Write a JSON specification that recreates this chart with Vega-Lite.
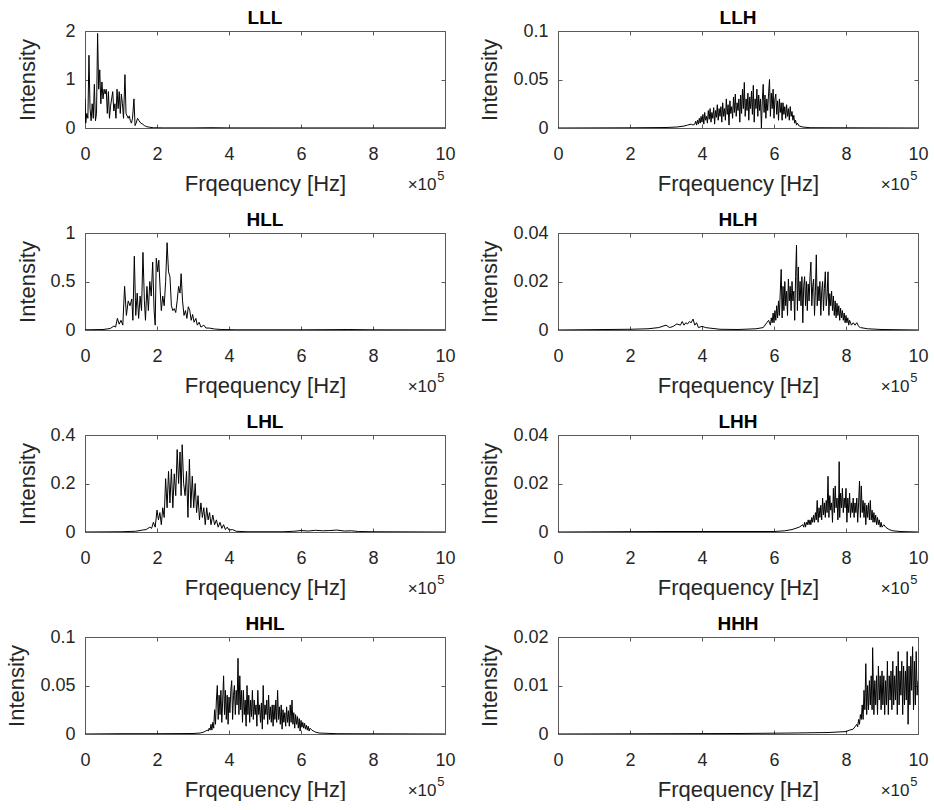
{
  "$schema": "https://vega.github.io/schema/vega-lite/v6.json",
  "background": "white",
  "padding": {"left": 4, "top": 8, "right": 0, "bottom": 0},
  "config": {
    "font": "Liberation Sans",
    "view": {"stroke": "#5a5a5a", "strokeWidth": 1},
    "axis": {"domain": false, "grid": false, "ticks": true, "tickSize": -4, "tickColor": "#5a5a5a", "tickWidth": 1, "labelFlush": false,
      "labelFont": "Liberation Sans", "labelFontSize": 18, "labelColor": "#262626",
      "titleFont": "Liberation Sans", "titleFontSize": 22, "titleFontWeight": "normal", "titleColor": "#262626"},
    "axisBottom": {"labelPadding": 35, "labelBaseline": "alphabetic"},
    "axisLeft": {"labelPadding": 14},
    "axisTop": {"labels": false, "titleFontSize": 17, "titleX": 351, "titleY": 158, "titleAlign": "right", "titleBaseline": "alphabetic"},
    "axisRight": {"labels": false, "titleFontSize": 13, "titleAngle": 0, "titleX": -1, "titleY": 148, "titleAlign": "right", "titleBaseline": "alphabetic"},
    "title": {"font": "Liberation Sans", "fontSize": 19, "fontWeight": "bold", "color": "black", "offset": -6, "baseline": "alphabetic", "frame": "group", "anchor": "middle"}
  },
  "datasets": {
    "LLL": [{"f":0,"v":0.6},{"f":0.02,"v":0.1},{"f":0.05,"v":0.3},{"f":0.08,"v":0.2},{"f":0.11,"v":1.5},{"f":0.14,"v":0.4},{"f":0.17,"v":0.15},{"f":0.2,"v":0.5},{"f":0.23,"v":0.2},{"f":0.26,"v":0.9},{"f":0.29,"v":0.15},{"f":0.32,"v":0.3},{"f":0.35,"v":1.95},{"f":0.38,"v":0.8},{"f":0.41,"v":1.2},{"f":0.44,"v":0.5},{"f":0.47,"v":0.95},{"f":0.5,"v":0.6},{"f":0.53,"v":0.8},{"f":0.56,"v":0.7},{"f":0.59,"v":0.8},{"f":0.62,"v":0.3},{"f":0.65,"v":0.75},{"f":0.68,"v":0.2},{"f":0.71,"v":0.45},{"f":0.74,"v":0.6},{"f":0.77,"v":0.75},{"f":0.8,"v":0.35},{"f":0.83,"v":0.5},{"f":0.86,"v":0.2},{"f":0.89,"v":0.8},{"f":0.92,"v":0.4},{"f":0.95,"v":0.75},{"f":0.98,"v":0.3},{"f":1.01,"v":0.7},{"f":1.04,"v":0.5},{"f":1.07,"v":0.2},{"f":1.11,"v":1.1},{"f":1.14,"v":0.3},{"f":1.17,"v":0.25},{"f":1.2,"v":0.2},{"f":1.23,"v":0.25},{"f":1.26,"v":0.15},{"f":1.29,"v":0.1},{"f":1.32,"v":0.2},{"f":1.36,"v":0.6},{"f":1.39,"v":0.05},{"f":1.42,"v":0.1},{"f":1.46,"v":0.2},{"f":1.5,"v":0.15},{"f":1.55,"v":0.1},{"f":1.6,"v":0.08},{"f":1.65,"v":0.05},{"f":1.7,"v":0.03},{"f":1.8,"v":0.015},{"f":1.9,"v":0.005},{"f":2.2,"v":0.002},{"f":3.0,"v":0.002},{"f":3.5,"v":0.006},{"f":4.0,"v":0.002},{"f":6,"v":0.001},{"f":8,"v":0.001},{"f":10,"v":0.001}],
    "LLH": [{"f":0,"v":0},{"f":2,"v":0.0002},{"f":3,"v":0.0005},{"f":3.3,"v":0.001},{"f":3.5,"v":0.002},{"f":3.6,"v":0.003},{"f":3.7,"v":0.004},{"f":3.75,"v":0.003},{"f":3.8,"v":0.004},{"f":3.825,"v":0.007},{"f":3.85,"v":0.003},{"f":3.875,"v":0.008},{"f":3.9,"v":0.004},{"f":3.925,"v":0.01},{"f":3.95,"v":0.005},{"f":3.975,"v":0.012},{"f":4.0,"v":0.006},{"f":4.025,"v":0.014},{"f":4.05,"v":0.004},{"f":4.075,"v":0.016},{"f":4.1,"v":0.008},{"f":4.125,"v":0.012},{"f":4.15,"v":0.005},{"f":4.175,"v":0.018},{"f":4.2,"v":0.009},{"f":4.225,"v":0.02},{"f":4.25,"v":0.006},{"f":4.275,"v":0.016},{"f":4.3,"v":0.01},{"f":4.325,"v":0.021},{"f":4.35,"v":0.004},{"f":4.375,"v":0.018},{"f":4.4,"v":0.011},{"f":4.425,"v":0.024},{"f":4.45,"v":0.008},{"f":4.475,"v":0.02},{"f":4.5,"v":0.012},{"f":4.525,"v":0.022},{"f":4.55,"v":0.006},{"f":4.575,"v":0.026},{"f":4.6,"v":0.012},{"f":4.625,"v":0.02},{"f":4.65,"v":0.008},{"f":4.675,"v":0.03},{"f":4.7,"v":0.014},{"f":4.725,"v":0.024},{"f":4.75,"v":0.003},{"f":4.775,"v":0.028},{"f":4.8,"v":0.015},{"f":4.825,"v":0.022},{"f":4.85,"v":0.01},{"f":4.875,"v":0.032},{"f":4.9,"v":0.016},{"f":4.925,"v":0.035},{"f":4.95,"v":0.012},{"f":4.975,"v":0.026},{"f":5.0,"v":0.018},{"f":5.025,"v":0.03},{"f":5.05,"v":0.006},{"f":5.075,"v":0.034},{"f":5.1,"v":0.015},{"f":5.125,"v":0.04},{"f":5.15,"v":0.02},{"f":5.175,"v":0.047},{"f":5.2,"v":0.012},{"f":5.225,"v":0.03},{"f":5.25,"v":0.018},{"f":5.275,"v":0.036},{"f":5.3,"v":0.008},{"f":5.325,"v":0.032},{"f":5.35,"v":0.02},{"f":5.375,"v":0.038},{"f":5.4,"v":0.014},{"f":5.425,"v":0.044},{"f":5.45,"v":0.006},{"f":5.475,"v":0.03},{"f":5.5,"v":0.02},{"f":5.525,"v":0.04},{"f":5.55,"v":0.012},{"f":5.575,"v":0.034},{"f":5.6,"v":0.018},{"f":5.625,"v":0.03},{"f":5.65,"v":0},{"f":5.675,"v":0.028},{"f":5.7,"v":0.045},{"f":5.725,"v":0.016},{"f":5.75,"v":0.034},{"f":5.775,"v":0.01},{"f":5.8,"v":0.03},{"f":5.825,"v":0.018},{"f":5.85,"v":0.036},{"f":5.875,"v":0.05},{"f":5.9,"v":0.012},{"f":5.925,"v":0.036},{"f":5.95,"v":0.02},{"f":5.975,"v":0.04},{"f":6.0,"v":0.01},{"f":6.025,"v":0.03},{"f":6.05,"v":0.035},{"f":6.075,"v":0.014},{"f":6.1,"v":0.028},{"f":6.125,"v":0.008},{"f":6.15,"v":0.03},{"f":6.175,"v":0.016},{"f":6.2,"v":0.026},{"f":6.225,"v":0.008},{"f":6.25,"v":0.026},{"f":6.275,"v":0.014},{"f":6.3,"v":0.022},{"f":6.325,"v":0.01},{"f":6.35,"v":0.024},{"f":6.375,"v":0.012},{"f":6.4,"v":0.02},{"f":6.425,"v":0.008},{"f":6.45,"v":0.022},{"f":6.475,"v":0.012},{"f":6.5,"v":0.017},{"f":6.525,"v":0.008},{"f":6.55,"v":0.013},{"f":6.575,"v":0.005},{"f":6.6,"v":0.008},{"f":6.625,"v":0.003},{"f":6.65,"v":0.005},{"f":6.7,"v":0.002},{"f":6.8,"v":0.001},{"f":7,"v":0.0003},{"f":8,"v":0.0002},{"f":10,"v":0}],
    "HLL": [{"f":0,"v":0.002},{"f":0.5,"v":0.005},{"f":0.7,"v":0.015},{"f":0.8,"v":0.04},{"f":0.85,"v":0.03},{"f":0.9,"v":0.12},{"f":0.95,"v":0.06},{"f":1.0,"v":0.1},{"f":1.05,"v":0.05},{"f":1.1,"v":0.45},{"f":1.15,"v":0.15},{"f":1.2,"v":0.3},{"f":1.25,"v":0.25},{"f":1.3,"v":0.32},{"f":1.33,"v":0.1},{"f":1.37,"v":0.76},{"f":1.41,"v":0.15},{"f":1.45,"v":0.38},{"f":1.49,"v":0.12},{"f":1.53,"v":0.35},{"f":1.57,"v":0.2},{"f":1.61,"v":0.8},{"f":1.65,"v":0.3},{"f":1.68,"v":0.1},{"f":1.72,"v":0.45},{"f":1.76,"v":0.2},{"f":1.8,"v":0.5},{"f":1.84,"v":0.35},{"f":1.88,"v":0.7},{"f":1.92,"v":0.2},{"f":1.95,"v":0.05},{"f":1.98,"v":0.74},{"f":2.02,"v":0.6},{"f":2.05,"v":0.72},{"f":2.09,"v":0.4},{"f":2.12,"v":0.2},{"f":2.16,"v":0.35},{"f":2.2,"v":0.25},{"f":2.24,"v":0.5},{"f":2.28,"v":0.9},{"f":2.32,"v":0.6},{"f":2.36,"v":0.55},{"f":2.4,"v":0.25},{"f":2.44,"v":0.2},{"f":2.48,"v":0.22},{"f":2.52,"v":0.18},{"f":2.56,"v":0.3},{"f":2.6,"v":0.45},{"f":2.64,"v":0.38},{"f":2.67,"v":0.58},{"f":2.71,"v":0.3},{"f":2.75,"v":0.15},{"f":2.79,"v":0.2},{"f":2.83,"v":0.12},{"f":2.87,"v":0.24},{"f":2.91,"v":0.2},{"f":2.95,"v":0.1},{"f":2.99,"v":0.16},{"f":3.03,"v":0.08},{"f":3.08,"v":0.12},{"f":3.12,"v":0.05},{"f":3.17,"v":0.08},{"f":3.22,"v":0.03},{"f":3.3,"v":0.05},{"f":3.36,"v":0.02},{"f":3.45,"v":0.02},{"f":3.6,"v":0.01},{"f":3.8,"v":0.005},{"f":4.2,"v":0.002},{"f":6,"v":0.002},{"f":7,"v":0.004},{"f":7.3,"v":0.005},{"f":8,"v":0.002},{"f":10,"v":0.001}],
    "HLH": [{"f":0,"v":0},{"f":2,"v":0.0003},{"f":2.5,"v":0.0005},{"f":2.8,"v":0.001},{"f":3.0,"v":0.002},{"f":3.1,"v":0.001},{"f":3.2,"v":0.0015},{"f":3.3,"v":0.0025},{"f":3.4,"v":0.002},{"f":3.45,"v":0.0035},{"f":3.5,"v":0.002},{"f":3.55,"v":0.003},{"f":3.6,"v":0.0025},{"f":3.65,"v":0.0035},{"f":3.7,"v":0.003},{"f":3.75,"v":0.0045},{"f":3.8,"v":0.002},{"f":3.85,"v":0.003},{"f":3.9,"v":0.001},{"f":4.0,"v":0.0015},{"f":4.1,"v":0.001},{"f":4.2,"v":0.0008},{"f":4.5,"v":0.0003},{"f":5.0,"v":0.0002},{"f":5.5,"v":0.0005},{"f":5.7,"v":0.001},{"f":5.8,"v":0.003},{"f":5.85,"v":0.004},{"f":5.9,"v":0.002},{"f":5.925,"v":0.005},{"f":5.95,"v":0.003},{"f":5.975,"v":0.007},{"f":6.0,"v":0.003},{"f":6.025,"v":0.008},{"f":6.05,"v":0.004},{"f":6.075,"v":0.01},{"f":6.1,"v":0.005},{"f":6.125,"v":0.012},{"f":6.15,"v":0.006},{"f":6.175,"v":0.016},{"f":6.2,"v":0.025},{"f":6.225,"v":0.005},{"f":6.25,"v":0.018},{"f":6.275,"v":0.008},{"f":6.3,"v":0.02},{"f":6.325,"v":0.01},{"f":6.35,"v":0.016},{"f":6.375,"v":0.006},{"f":6.4,"v":0.021},{"f":6.425,"v":0.012},{"f":6.45,"v":0.018},{"f":6.475,"v":0.008},{"f":6.5,"v":0.02},{"f":6.525,"v":0.012},{"f":6.55,"v":0.016},{"f":6.575,"v":0.004},{"f":6.6,"v":0.022},{"f":6.625,"v":0.035},{"f":6.65,"v":0.008},{"f":6.675,"v":0.026},{"f":6.7,"v":0.012},{"f":6.725,"v":0.02},{"f":6.75,"v":0.01},{"f":6.775,"v":0.022},{"f":6.8,"v":0.003},{"f":6.825,"v":0.018},{"f":6.85,"v":0.022},{"f":6.875,"v":0.01},{"f":6.9,"v":0.02},{"f":6.925,"v":0.008},{"f":6.95,"v":0.019},{"f":6.975,"v":0.012},{"f":7.0,"v":0.022},{"f":7.025,"v":0.028},{"f":7.05,"v":0.01},{"f":7.075,"v":0.018},{"f":7.1,"v":0.021},{"f":7.125,"v":0.006},{"f":7.15,"v":0.016},{"f":7.175,"v":0.031},{"f":7.2,"v":0.01},{"f":7.225,"v":0.018},{"f":7.25,"v":0.012},{"f":7.275,"v":0.02},{"f":7.3,"v":0.006},{"f":7.325,"v":0.016},{"f":7.35,"v":0.02},{"f":7.375,"v":0.008},{"f":7.4,"v":0.017},{"f":7.425,"v":0.024},{"f":7.45,"v":0.01},{"f":7.475,"v":0.014},{"f":7.5,"v":0.024},{"f":7.525,"v":0.006},{"f":7.55,"v":0.015},{"f":7.575,"v":0.01},{"f":7.6,"v":0.016},{"f":7.625,"v":0.008},{"f":7.65,"v":0.014},{"f":7.675,"v":0.006},{"f":7.7,"v":0.012},{"f":7.725,"v":0.005},{"f":7.75,"v":0.011},{"f":7.775,"v":0.006},{"f":7.8,"v":0.01},{"f":7.825,"v":0.004},{"f":7.85,"v":0.009},{"f":7.875,"v":0.005},{"f":7.9,"v":0.008},{"f":7.925,"v":0.004},{"f":7.95,"v":0.007},{"f":7.975,"v":0.003},{"f":8.0,"v":0.006},{"f":8.025,"v":0.003},{"f":8.05,"v":0.005},{"f":8.075,"v":0.002},{"f":8.1,"v":0.004},{"f":8.15,"v":0.002},{"f":8.2,"v":0.003},{"f":8.25,"v":0.002},{"f":8.3,"v":0.003},{"f":8.35,"v":0.0015},{"f":8.4,"v":0.001},{"f":8.6,"v":0.0005},{"f":9,"v":0.0002},{"f":10,"v":0}],
    "LHL": [{"f":0,"v":0},{"f":1.0,"v":0.001},{"f":1.4,"v":0.003},{"f":1.6,"v":0.008},{"f":1.7,"v":0.01},{"f":1.8,"v":0.02},{"f":1.85,"v":0.015},{"f":1.9,"v":0.04},{"f":1.95,"v":0.02},{"f":2.0,"v":0.09},{"f":2.04,"v":0.05},{"f":2.08,"v":0.08},{"f":2.12,"v":0.03},{"f":2.16,"v":0.1},{"f":2.2,"v":0.06},{"f":2.24,"v":0.22},{"f":2.28,"v":0.1},{"f":2.32,"v":0.25},{"f":2.36,"v":0.12},{"f":2.4,"v":0.26},{"f":2.44,"v":0.1},{"f":2.48,"v":0.24},{"f":2.52,"v":0.15},{"f":2.56,"v":0.34},{"f":2.6,"v":0.2},{"f":2.64,"v":0.33},{"f":2.67,"v":0.15},{"f":2.7,"v":0.36},{"f":2.74,"v":0.2},{"f":2.78,"v":0.15},{"f":2.82,"v":0.25},{"f":2.86,"v":0.06},{"f":2.9,"v":0.3},{"f":2.94,"v":0.1},{"f":2.98,"v":0.23},{"f":3.02,"v":0.1},{"f":3.06,"v":0.2},{"f":3.1,"v":0.08},{"f":3.14,"v":0.15},{"f":3.18,"v":0.05},{"f":3.22,"v":0.12},{"f":3.26,"v":0.06},{"f":3.3,"v":0.1},{"f":3.34,"v":0.03},{"f":3.38,"v":0.1},{"f":3.42,"v":0.05},{"f":3.46,"v":0.08},{"f":3.5,"v":0.03},{"f":3.55,"v":0.07},{"f":3.6,"v":0.03},{"f":3.65,"v":0.05},{"f":3.7,"v":0.02},{"f":3.75,"v":0.04},{"f":3.8,"v":0.015},{"f":3.85,"v":0.03},{"f":3.9,"v":0.01},{"f":3.95,"v":0.02},{"f":4.0,"v":0.008},{"f":4.1,"v":0.01},{"f":4.2,"v":0.003},{"f":4.5,"v":0.001},{"f":5.5,"v":0.001},{"f":5.8,"v":0.003},{"f":6.0,"v":0.006},{"f":6.2,"v":0.004},{"f":6.4,"v":0.007},{"f":6.6,"v":0.005},{"f":6.8,"v":0.006},{"f":7.0,"v":0.008},{"f":7.2,"v":0.004},{"f":7.4,"v":0.005},{"f":7.6,"v":0.002},{"f":8,"v":0.001},{"f":10,"v":0}],
    "LHH": [{"f":0,"v":0},{"f":3,"v":0.0002},{"f":6,"v":0.0002},{"f":6.3,"v":0.0005},{"f":6.5,"v":0.001},{"f":6.7,"v":0.002},{"f":6.8,"v":0.003},{"f":6.825,"v":0.002},{"f":6.85,"v":0.004},{"f":6.875,"v":0.002},{"f":6.9,"v":0.004},{"f":6.925,"v":0.003},{"f":6.95,"v":0.005},{"f":6.975,"v":0.003},{"f":7.0,"v":0.005},{"f":7.025,"v":0.003},{"f":7.05,"v":0.006},{"f":7.075,"v":0.004},{"f":7.1,"v":0.007},{"f":7.125,"v":0.004},{"f":7.15,"v":0.008},{"f":7.175,"v":0.005},{"f":7.2,"v":0.013},{"f":7.225,"v":0.004},{"f":7.25,"v":0.01},{"f":7.275,"v":0.006},{"f":7.3,"v":0.011},{"f":7.325,"v":0.005},{"f":7.35,"v":0.014},{"f":7.375,"v":0.007},{"f":7.4,"v":0.012},{"f":7.425,"v":0.006},{"f":7.45,"v":0.013},{"f":7.475,"v":0.008},{"f":7.5,"v":0.023},{"f":7.525,"v":0.006},{"f":7.55,"v":0.015},{"f":7.575,"v":0.009},{"f":7.6,"v":0.012},{"f":7.625,"v":0.004},{"f":7.65,"v":0.018},{"f":7.675,"v":0.008},{"f":7.7,"v":0.019},{"f":7.725,"v":0.01},{"f":7.75,"v":0.014},{"f":7.775,"v":0.005},{"f":7.8,"v":0.016},{"f":7.81,"v":0.029},{"f":7.825,"v":0.006},{"f":7.85,"v":0.016},{"f":7.875,"v":0.01},{"f":7.9,"v":0.018},{"f":7.925,"v":0.008},{"f":7.95,"v":0.014},{"f":7.975,"v":0.01},{"f":8.0,"v":0.018},{"f":8.025,"v":0.004},{"f":8.05,"v":0.014},{"f":8.075,"v":0.008},{"f":8.1,"v":0.016},{"f":8.125,"v":0.006},{"f":8.15,"v":0.012},{"f":8.175,"v":0.008},{"f":8.2,"v":0.014},{"f":8.225,"v":0.006},{"f":8.25,"v":0.012},{"f":8.275,"v":0.008},{"f":8.3,"v":0.014},{"f":8.325,"v":0.004},{"f":8.35,"v":0.012},{"f":8.375,"v":0.021},{"f":8.4,"v":0.006},{"f":8.425,"v":0.019},{"f":8.45,"v":0.008},{"f":8.475,"v":0.013},{"f":8.5,"v":0.006},{"f":8.525,"v":0.012},{"f":8.55,"v":0.003},{"f":8.575,"v":0.011},{"f":8.6,"v":0.006},{"f":8.625,"v":0.012},{"f":8.65,"v":0.005},{"f":8.675,"v":0.013},{"f":8.7,"v":0.005},{"f":8.725,"v":0.009},{"f":8.75,"v":0.004},{"f":8.775,"v":0.008},{"f":8.8,"v":0.004},{"f":8.825,"v":0.007},{"f":8.85,"v":0.003},{"f":8.875,"v":0.006},{"f":8.9,"v":0.003},{"f":8.925,"v":0.005},{"f":8.95,"v":0.002},{"f":8.975,"v":0.004},{"f":9.0,"v":0.002},{"f":9.05,"v":0.003},{"f":9.1,"v":0.002},{"f":9.2,"v":0.001},{"f":9.3,"v":0.0005},{"f":9.5,"v":0.0002},{"f":10,"v":0}],
    "HHL": [{"f":0,"v":0},{"f":1,"v":0.0003},{"f":2,"v":0.0003},{"f":3,"v":0.0005},{"f":3.2,"v":0.001},{"f":3.3,"v":0.002},{"f":3.35,"v":0.003},{"f":3.4,"v":0.004},{"f":3.425,"v":0.003},{"f":3.45,"v":0.006},{"f":3.475,"v":0.004},{"f":3.5,"v":0.01},{"f":3.525,"v":0.004},{"f":3.55,"v":0.012},{"f":3.575,"v":0.006},{"f":3.6,"v":0.025},{"f":3.625,"v":0.01},{"f":3.65,"v":0.035},{"f":3.675,"v":0.05},{"f":3.7,"v":0.015},{"f":3.725,"v":0.04},{"f":3.75,"v":0.02},{"f":3.775,"v":0.045},{"f":3.8,"v":0.012},{"f":3.825,"v":0.035},{"f":3.85,"v":0.06},{"f":3.875,"v":0.02},{"f":3.9,"v":0.045},{"f":3.925,"v":0.015},{"f":3.95,"v":0.04},{"f":3.975,"v":0.01},{"f":4.0,"v":0.038},{"f":4.025,"v":0.022},{"f":4.05,"v":0.045},{"f":4.075,"v":0.055},{"f":4.1,"v":0.015},{"f":4.125,"v":0.04},{"f":4.15,"v":0.05},{"f":4.175,"v":0.02},{"f":4.2,"v":0.045},{"f":4.225,"v":0.03},{"f":4.25,"v":0.078},{"f":4.275,"v":0.02},{"f":4.3,"v":0.06},{"f":4.325,"v":0.025},{"f":4.35,"v":0.045},{"f":4.375,"v":0.012},{"f":4.4,"v":0.045},{"f":4.425,"v":0.02},{"f":4.45,"v":0.035},{"f":4.475,"v":0.008},{"f":4.5,"v":0.05},{"f":4.525,"v":0.02},{"f":4.55,"v":0.04},{"f":4.575,"v":0.012},{"f":4.6,"v":0.035},{"f":4.625,"v":0.018},{"f":4.65,"v":0.045},{"f":4.675,"v":0.015},{"f":4.7,"v":0.035},{"f":4.725,"v":0.02},{"f":4.75,"v":0.03},{"f":4.775,"v":0.008},{"f":4.8,"v":0.045},{"f":4.825,"v":0.02},{"f":4.85,"v":0.03},{"f":4.875,"v":0.012},{"f":4.9,"v":0.032},{"f":4.925,"v":0.005},{"f":4.95,"v":0.05},{"f":4.975,"v":0.015},{"f":5.0,"v":0.03},{"f":5.025,"v":0.02},{"f":5.05,"v":0.035},{"f":5.075,"v":0.01},{"f":5.1,"v":0.04},{"f":5.125,"v":0.015},{"f":5.15,"v":0.028},{"f":5.175,"v":0.012},{"f":5.2,"v":0.03},{"f":5.225,"v":0.008},{"f":5.25,"v":0.03},{"f":5.275,"v":0.015},{"f":5.3,"v":0.035},{"f":5.325,"v":0.012},{"f":5.35,"v":0.045},{"f":5.375,"v":0.015},{"f":5.4,"v":0.028},{"f":5.425,"v":0.01},{"f":5.45,"v":0.03},{"f":5.475,"v":0.005},{"f":5.5,"v":0.025},{"f":5.525,"v":0.012},{"f":5.55,"v":0.022},{"f":5.575,"v":0.008},{"f":5.6,"v":0.028},{"f":5.625,"v":0.012},{"f":5.65,"v":0.024},{"f":5.675,"v":0.008},{"f":5.7,"v":0.03},{"f":5.725,"v":0.012},{"f":5.75,"v":0.035},{"f":5.775,"v":0.01},{"f":5.8,"v":0.022},{"f":5.825,"v":0.006},{"f":5.85,"v":0.02},{"f":5.875,"v":0.01},{"f":5.9,"v":0.018},{"f":5.925,"v":0.006},{"f":5.95,"v":0.016},{"f":5.975,"v":0.003},{"f":6.0,"v":0.014},{"f":6.025,"v":0.007},{"f":6.05,"v":0.012},{"f":6.075,"v":0.006},{"f":6.1,"v":0.011},{"f":6.125,"v":0.005},{"f":6.15,"v":0.009},{"f":6.175,"v":0.004},{"f":6.2,"v":0.008},{"f":6.225,"v":0.003},{"f":6.25,"v":0.006},{"f":6.3,"v":0.004},{"f":6.35,"v":0.003},{"f":6.4,"v":0.002},{"f":6.5,"v":0.001},{"f":7,"v":0.0003},{"f":10,"v":0}],
    "HHH": [{"f":0,"v":0},{"f":5,"v":0.0001},{"f":6.5,"v":0.0002},{"f":7.5,"v":0.0003},{"f":8.0,"v":0.0005},{"f":8.1,"v":0.0008},{"f":8.2,"v":0.001},{"f":8.25,"v":0.0015},{"f":8.3,"v":0.002},{"f":8.325,"v":0.0015},{"f":8.35,"v":0.003},{"f":8.375,"v":0.002},{"f":8.4,"v":0.004},{"f":8.425,"v":0.003},{"f":8.45,"v":0.006},{"f":8.475,"v":0.003},{"f":8.5,"v":0.009},{"f":8.525,"v":0.005},{"f":8.55,"v":0.0145},{"f":8.575,"v":0.004},{"f":8.6,"v":0.01},{"f":8.625,"v":0.005},{"f":8.65,"v":0.011},{"f":8.675,"v":0.006},{"f":8.7,"v":0.012},{"f":8.725,"v":0.005},{"f":8.74,"v":0.0178},{"f":8.775,"v":0.004},{"f":8.8,"v":0.011},{"f":8.825,"v":0.006},{"f":8.85,"v":0.012},{"f":8.875,"v":0.004},{"f":8.9,"v":0.014},{"f":8.925,"v":0.007},{"f":8.95,"v":0.012},{"f":8.975,"v":0.005},{"f":9.0,"v":0.013},{"f":9.025,"v":0.006},{"f":9.05,"v":0.012},{"f":9.075,"v":0.004},{"f":9.1,"v":0.011},{"f":9.125,"v":0.006},{"f":9.15,"v":0.015},{"f":9.175,"v":0.004},{"f":9.2,"v":0.012},{"f":9.225,"v":0.007},{"f":9.25,"v":0.013},{"f":9.275,"v":0.005},{"f":9.3,"v":0.015},{"f":9.325,"v":0.006},{"f":9.35,"v":0.012},{"f":9.375,"v":0.007},{"f":9.4,"v":0.014},{"f":9.425,"v":0.004},{"f":9.45,"v":0.017},{"f":9.475,"v":0.006},{"f":9.5,"v":0.013},{"f":9.525,"v":0.008},{"f":9.55,"v":0.015},{"f":9.575,"v":0.004},{"f":9.6,"v":0.014},{"f":9.625,"v":0.006},{"f":9.65,"v":0.013},{"f":9.675,"v":0.007},{"f":9.7,"v":0.017},{"f":9.725,"v":0.002},{"f":9.75,"v":0.014},{"f":9.775,"v":0.006},{"f":9.8,"v":0.016},{"f":9.825,"v":0.009},{"f":9.85,"v":0.018},{"f":9.875,"v":0.005},{"f":9.9,"v":0.015},{"f":9.925,"v":0.006},{"f":9.95,"v":0.017},{"f":9.975,"v":0.008},{"f":10,"v":0.011}]
  },
  "columns": 2,
  "spacing": {"row": 105, "column": 113},
  "bounds": "flush",
  "concat": [
    {"title": "LLL", "width": 360, "height": 97, "data": {"name": "LLL"},
     "layer": [
      {"mark": {"type": "line", "color": "black", "strokeWidth": 1, "clip": true},
       "encoding": {
        "x": {"field": "f", "type": "quantitative", "scale": {"domain": [0, 10], "nice": false, "zero": false}, "axis": {"orient": "bottom", "values": [0, 2, 4, 6, 8, 10], "format": "~r", "title": "Frqequency [Hz]", "titleX": 180, "titleY": 62, "titleBaseline": "alphabetic", "titleAlign": "center"}},
        "y": {"field": "v", "type": "quantitative", "scale": {"domain": [0, 2], "nice": false}, "axis": {"orient": "left", "values": [0, 1, 2], "format": "~r", "title": "Intensity", "titleX": -58, "titleY": 48.5, "titleBaseline": "middle", "titleAlign": "center", "titleAngle": 270}}}},
      {"mark": {"type": "line", "opacity": 0},
       "encoding": {
        "x": {"field": "f", "type": "quantitative", "axis": {"orient": "top", "values": [0, 2, 4, 6, 8, 10], "title": "×10"}},
        "y": {"field": "v", "type": "quantitative", "axis": {"orient": "right", "values": [0, 1, 2], "title": "5"}}}}
     ],
     "resolve": {"axis": {"x": "independent", "y": "independent"}}},
    {"title": "LLH", "width": 360, "height": 97, "data": {"name": "LLH"},
     "layer": [
      {"mark": {"type": "line", "color": "black", "strokeWidth": 1, "clip": true},
       "encoding": {
        "x": {"field": "f", "type": "quantitative", "scale": {"domain": [0, 10], "nice": false, "zero": false}, "axis": {"orient": "bottom", "values": [0, 2, 4, 6, 8, 10], "format": "~r", "title": "Frqequency [Hz]", "titleX": 180, "titleY": 62, "titleBaseline": "alphabetic", "titleAlign": "center"}},
        "y": {"field": "v", "type": "quantitative", "scale": {"domain": [0, 0.1], "nice": false}, "axis": {"orient": "left", "values": [0, 0.05, 0.1], "format": "~r", "title": "Intensity", "titleX": -69, "titleY": 48.5, "titleBaseline": "middle", "titleAlign": "center", "titleAngle": 270}}}},
      {"mark": {"type": "line", "opacity": 0},
       "encoding": {
        "x": {"field": "f", "type": "quantitative", "axis": {"orient": "top", "values": [0, 2, 4, 6, 8, 10], "title": "×10"}},
        "y": {"field": "v", "type": "quantitative", "axis": {"orient": "right", "values": [0, 0.05, 0.1], "title": "5"}}}}
     ],
     "resolve": {"axis": {"x": "independent", "y": "independent"}}},
    {"title": "HLL", "width": 360, "height": 97, "data": {"name": "HLL"},
     "layer": [
      {"mark": {"type": "line", "color": "black", "strokeWidth": 1, "clip": true},
       "encoding": {
        "x": {"field": "f", "type": "quantitative", "scale": {"domain": [0, 10], "nice": false, "zero": false}, "axis": {"orient": "bottom", "values": [0, 2, 4, 6, 8, 10], "format": "~r", "title": "Frqequency [Hz]", "titleX": 180, "titleY": 62, "titleBaseline": "alphabetic", "titleAlign": "center"}},
        "y": {"field": "v", "type": "quantitative", "scale": {"domain": [0, 1], "nice": false}, "axis": {"orient": "left", "values": [0, 0.5, 1], "format": "~r", "title": "Intensity", "titleX": -58, "titleY": 48.5, "titleBaseline": "middle", "titleAlign": "center", "titleAngle": 270}}}},
      {"mark": {"type": "line", "opacity": 0},
       "encoding": {
        "x": {"field": "f", "type": "quantitative", "axis": {"orient": "top", "values": [0, 2, 4, 6, 8, 10], "title": "×10"}},
        "y": {"field": "v", "type": "quantitative", "axis": {"orient": "right", "values": [0, 0.5, 1], "title": "5"}}}}
     ],
     "resolve": {"axis": {"x": "independent", "y": "independent"}}},
    {"title": "HLH", "width": 360, "height": 97, "data": {"name": "HLH"},
     "layer": [
      {"mark": {"type": "line", "color": "black", "strokeWidth": 1, "clip": true},
       "encoding": {
        "x": {"field": "f", "type": "quantitative", "scale": {"domain": [0, 10], "nice": false, "zero": false}, "axis": {"orient": "bottom", "values": [0, 2, 4, 6, 8, 10], "format": "~r", "title": "Frqequency [Hz]", "titleX": 180, "titleY": 62, "titleBaseline": "alphabetic", "titleAlign": "center"}},
        "y": {"field": "v", "type": "quantitative", "scale": {"domain": [0, 0.04], "nice": false}, "axis": {"orient": "left", "values": [0, 0.02, 0.04], "format": "~r", "title": "Intensity", "titleX": -69, "titleY": 48.5, "titleBaseline": "middle", "titleAlign": "center", "titleAngle": 270}}}},
      {"mark": {"type": "line", "opacity": 0},
       "encoding": {
        "x": {"field": "f", "type": "quantitative", "axis": {"orient": "top", "values": [0, 2, 4, 6, 8, 10], "title": "×10"}},
        "y": {"field": "v", "type": "quantitative", "axis": {"orient": "right", "values": [0, 0.02, 0.04], "title": "5"}}}}
     ],
     "resolve": {"axis": {"x": "independent", "y": "independent"}}},
    {"title": "LHL", "width": 360, "height": 97, "data": {"name": "LHL"},
     "layer": [
      {"mark": {"type": "line", "color": "black", "strokeWidth": 1, "clip": true},
       "encoding": {
        "x": {"field": "f", "type": "quantitative", "scale": {"domain": [0, 10], "nice": false, "zero": false}, "axis": {"orient": "bottom", "values": [0, 2, 4, 6, 8, 10], "format": "~r", "title": "Frqequency [Hz]", "titleX": 180, "titleY": 62, "titleBaseline": "alphabetic", "titleAlign": "center"}},
        "y": {"field": "v", "type": "quantitative", "scale": {"domain": [0, 0.4], "nice": false}, "axis": {"orient": "left", "values": [0, 0.2, 0.4], "format": "~r", "title": "Intensity", "titleX": -58, "titleY": 48.5, "titleBaseline": "middle", "titleAlign": "center", "titleAngle": 270}}}},
      {"mark": {"type": "line", "opacity": 0},
       "encoding": {
        "x": {"field": "f", "type": "quantitative", "axis": {"orient": "top", "values": [0, 2, 4, 6, 8, 10], "title": "×10"}},
        "y": {"field": "v", "type": "quantitative", "axis": {"orient": "right", "values": [0, 0.2, 0.4], "title": "5"}}}}
     ],
     "resolve": {"axis": {"x": "independent", "y": "independent"}}},
    {"title": "LHH", "width": 360, "height": 97, "data": {"name": "LHH"},
     "layer": [
      {"mark": {"type": "line", "color": "black", "strokeWidth": 1, "clip": true},
       "encoding": {
        "x": {"field": "f", "type": "quantitative", "scale": {"domain": [0, 10], "nice": false, "zero": false}, "axis": {"orient": "bottom", "values": [0, 2, 4, 6, 8, 10], "format": "~r", "title": "Frqequency [Hz]", "titleX": 180, "titleY": 62, "titleBaseline": "alphabetic", "titleAlign": "center"}},
        "y": {"field": "v", "type": "quantitative", "scale": {"domain": [0, 0.04], "nice": false}, "axis": {"orient": "left", "values": [0, 0.02, 0.04], "format": "~r", "title": "Intensity", "titleX": -69, "titleY": 48.5, "titleBaseline": "middle", "titleAlign": "center", "titleAngle": 270}}}},
      {"mark": {"type": "line", "opacity": 0},
       "encoding": {
        "x": {"field": "f", "type": "quantitative", "axis": {"orient": "top", "values": [0, 2, 4, 6, 8, 10], "title": "×10"}},
        "y": {"field": "v", "type": "quantitative", "axis": {"orient": "right", "values": [0, 0.02, 0.04], "title": "5"}}}}
     ],
     "resolve": {"axis": {"x": "independent", "y": "independent"}}},
    {"title": "HHL", "width": 360, "height": 97, "data": {"name": "HHL"},
     "layer": [
      {"mark": {"type": "line", "color": "black", "strokeWidth": 1, "clip": true},
       "encoding": {
        "x": {"field": "f", "type": "quantitative", "scale": {"domain": [0, 10], "nice": false, "zero": false}, "axis": {"orient": "bottom", "values": [0, 2, 4, 6, 8, 10], "format": "~r", "title": "Frqequency [Hz]", "titleX": 180, "titleY": 62, "titleBaseline": "alphabetic", "titleAlign": "center"}},
        "y": {"field": "v", "type": "quantitative", "scale": {"domain": [0, 0.1], "nice": false}, "axis": {"orient": "left", "values": [0, 0.05, 0.1], "format": "~r", "title": "Intensity", "titleX": -69, "titleY": 48.5, "titleBaseline": "middle", "titleAlign": "center", "titleAngle": 270}}}},
      {"mark": {"type": "line", "opacity": 0},
       "encoding": {
        "x": {"field": "f", "type": "quantitative", "axis": {"orient": "top", "values": [0, 2, 4, 6, 8, 10], "title": "×10"}},
        "y": {"field": "v", "type": "quantitative", "axis": {"orient": "right", "values": [0, 0.05, 0.1], "title": "5"}}}}
     ],
     "resolve": {"axis": {"x": "independent", "y": "independent"}}},
    {"title": "HHH", "width": 360, "height": 97, "data": {"name": "HHH"},
     "layer": [
      {"mark": {"type": "line", "color": "black", "strokeWidth": 1, "clip": true},
       "encoding": {
        "x": {"field": "f", "type": "quantitative", "scale": {"domain": [0, 10], "nice": false, "zero": false}, "axis": {"orient": "bottom", "values": [0, 2, 4, 6, 8, 10], "format": "~r", "title": "Frqequency [Hz]", "titleX": 180, "titleY": 62, "titleBaseline": "alphabetic", "titleAlign": "center"}},
        "y": {"field": "v", "type": "quantitative", "scale": {"domain": [0, 0.02], "nice": false}, "axis": {"orient": "left", "values": [0, 0.01, 0.02], "format": "~r", "title": "Intensity", "titleX": -69, "titleY": 48.5, "titleBaseline": "middle", "titleAlign": "center", "titleAngle": 270}}}},
      {"mark": {"type": "line", "opacity": 0},
       "encoding": {
        "x": {"field": "f", "type": "quantitative", "axis": {"orient": "top", "values": [0, 2, 4, 6, 8, 10], "title": "×10"}},
        "y": {"field": "v", "type": "quantitative", "axis": {"orient": "right", "values": [0, 0.01, 0.02], "title": "5"}}}}
     ],
     "resolve": {"axis": {"x": "independent", "y": "independent"}}}
  ]
}
